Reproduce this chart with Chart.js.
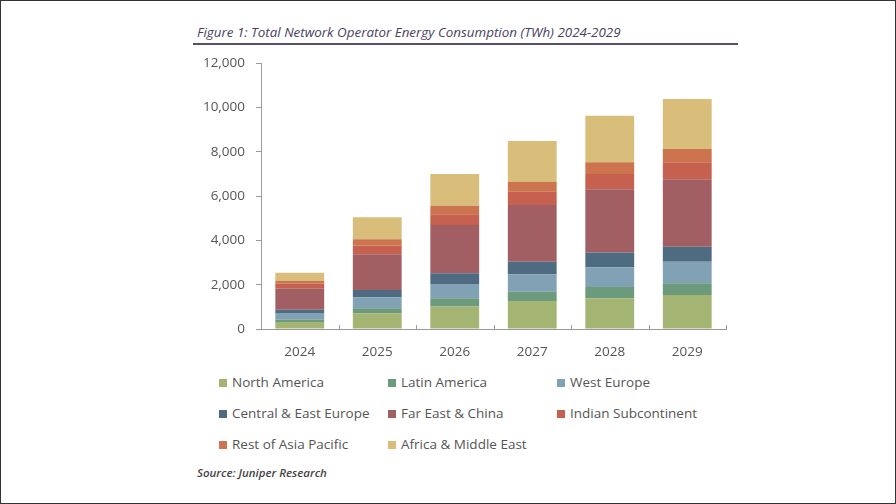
<!DOCTYPE html>
<html>
<head>
<meta charset="utf-8">
<script src="https://cdn.jsdelivr.net/npm/chart.js@4"></script>
<style>
  html, body { margin: 0; padding: 0; background: #fff; }
  body { width: 896px; height: 504px; position: relative; overflow: hidden; font-family: "Open Sans", sans-serif; }
  #frame { position: absolute; left: 0; top: 0; width: 894px; height: 502px; border: 1px solid #333; }
  #title { position: absolute; left: 197px; top: 23px; font-size: 13.4px; font-style: italic; color: #4b4160; white-space: nowrap; }
  #rule { position: absolute; left: 193px; top: 43px; width: 545px; height: 2px; background: #5b4d70; }
  #wrap { position: absolute; left: 180px; top: 44px; width: 556px; height: 318px; }
  #legend { position: absolute; left: 219px; top: 372px; }
  .item { position: absolute; white-space: nowrap; font-size: 13.5px; color: #555; height: 20px; line-height: 20px; }
  .item span { display: inline-block; width: 8px; height: 8px; margin-right: 5px; vertical-align: 0px; }
  #source { position: absolute; left: 197px; top: 465px; font-size: 11.5px; font-style: italic; font-weight: 600; color: #444; }
</style>
</head>
<body>
<div id="frame"></div>
<div id="title">Figure 1: Total Network Operator Energy Consumption (TWh) 2024-2029</div>
<div id="rule"></div>
<div id="wrap"><canvas id="energyChart"></canvas></div>
<div id="legend"></div>
<div id="source">Source: Juniper Research</div>
<script>
let years = ["2024", "2025", "2026", "2027", "2028", "2029"];
let regions = ["North America", "Latin America", "West Europe", "Central & East Europe",
               "Far East & China", "Indian Subcontinent", "Rest of Asia Pacific", "Africa & Middle East"];
let regionColors = ["#a4b573", "#6c9a7c", "#81a1b4", "#4f6b82", "#a15f64", "#c6604f", "#cc744d", "#d9be7b"];

// TWh per region
let northAmerica   = [320, 710, 1010, 1260, 1390, 1530];
let latinAmerica   = [100, 225, 380, 420, 500, 530];
let westEurope     = [300, 500, 645, 785, 900, 975];
let centralEurope  = [150, 330, 480, 570, 660, 680];
let farEastChina   = [950, 1610, 2180, 2560, 2860, 3040];
let indianSub      = [230, 390, 480, 600, 690, 770];
let restAsiaPac    = [120, 290, 390, 450, 530, 600];
let africaMidEast  = [370, 990, 1430, 1835, 2090, 2255];

let yTicks = [0, 2000, 4000, 6000, 8000, 10000, 12000];

let seriesValues = [northAmerica, latinAmerica, westEurope, centralEurope,
                    farEastChina, indianSub, restAsiaPac, africaMidEast];

// x axis ticks point up into the plot, draw them here
const innerTicks = {
    id: "innerTicks",
    afterDraw(chart) {
        let area = chart.chartArea;
        let ctx = chart.ctx;
        let step = (area.right - area.left) / years.length;
        ctx.save();
        ctx.strokeStyle = "#9a9a9a";
        ctx.lineWidth = 1;
        for (let i = 1; i <= years.length; i++) {
            let x = Math.round(area.left + i * step) + 0.5;
            ctx.beginPath();
            ctx.moveTo(x, area.bottom);
            ctx.lineTo(x, area.bottom - 4);
            ctx.stroke();
        }
        ctx.restore();
    }
};

let chartInstance = new Chart(document.getElementById("energyChart").getContext("2d"), {
    type: "bar",
    data: {
        labels: years,
        datasets: regions.map((name, i) => ({
            label: name,
            data: seriesValues[i],
            backgroundColor: regionColors[i],
            borderWidth: 0,
            barPercentage: 0.63,
            categoryPercentage: 1.0
        }))
    },
    options: {
        responsive: true,
        maintainAspectRatio: false,
        animation: false,
        layout: { padding: { top: 7, right: 10, left: 0, bottom: 0 } },
        plugins: { legend: { display: false }, tooltip: { enabled: false } },
        scales: {
            x: {
                stacked: true,
                grid: { display: false },
                border: { color: "#9a9a9a" },
                ticks: { color: "#555", padding: 7, font: { family: "Open Sans", size: 13.5 } },
                afterFit(scale) { scale.height = 33; }
            },
            y: {
                stacked: true,
                min: 0,
                max: 12000,
                afterBuildTicks(scale) { scale.ticks = yTicks.map(v => ({ value: v })); },
                grid: { drawOnChartArea: false, tickLength: 5, color: "#9a9a9a" },
                border: { color: "#9a9a9a" },
                ticks: {
                    color: "#555",
                    padding: 11,
                    font: { family: "Open Sans", size: 13.5 },
                    callback: v => v.toLocaleString("en-US")
                },
                afterFit(scale) { scale.width = 81; }
            }
        }
    },
    plugins: [innerTicks]
});

// legend in three fixed columns
let legendBox = document.getElementById("legend");
let colX = [0, 169, 338];
let rowY = [0, 31, 62];
regions.forEach((name, i) => {
    let item = document.createElement("div");
    item.className = "item";
    item.style.left = colX[i % 3] + "px";
    item.style.top = rowY[Math.floor(i / 3)] + "px";
    item.innerHTML = `<span style="background:${regionColors[i]}"></span>${name}`;
    legendBox.appendChild(item);
});
</script>
</body>
</html>
